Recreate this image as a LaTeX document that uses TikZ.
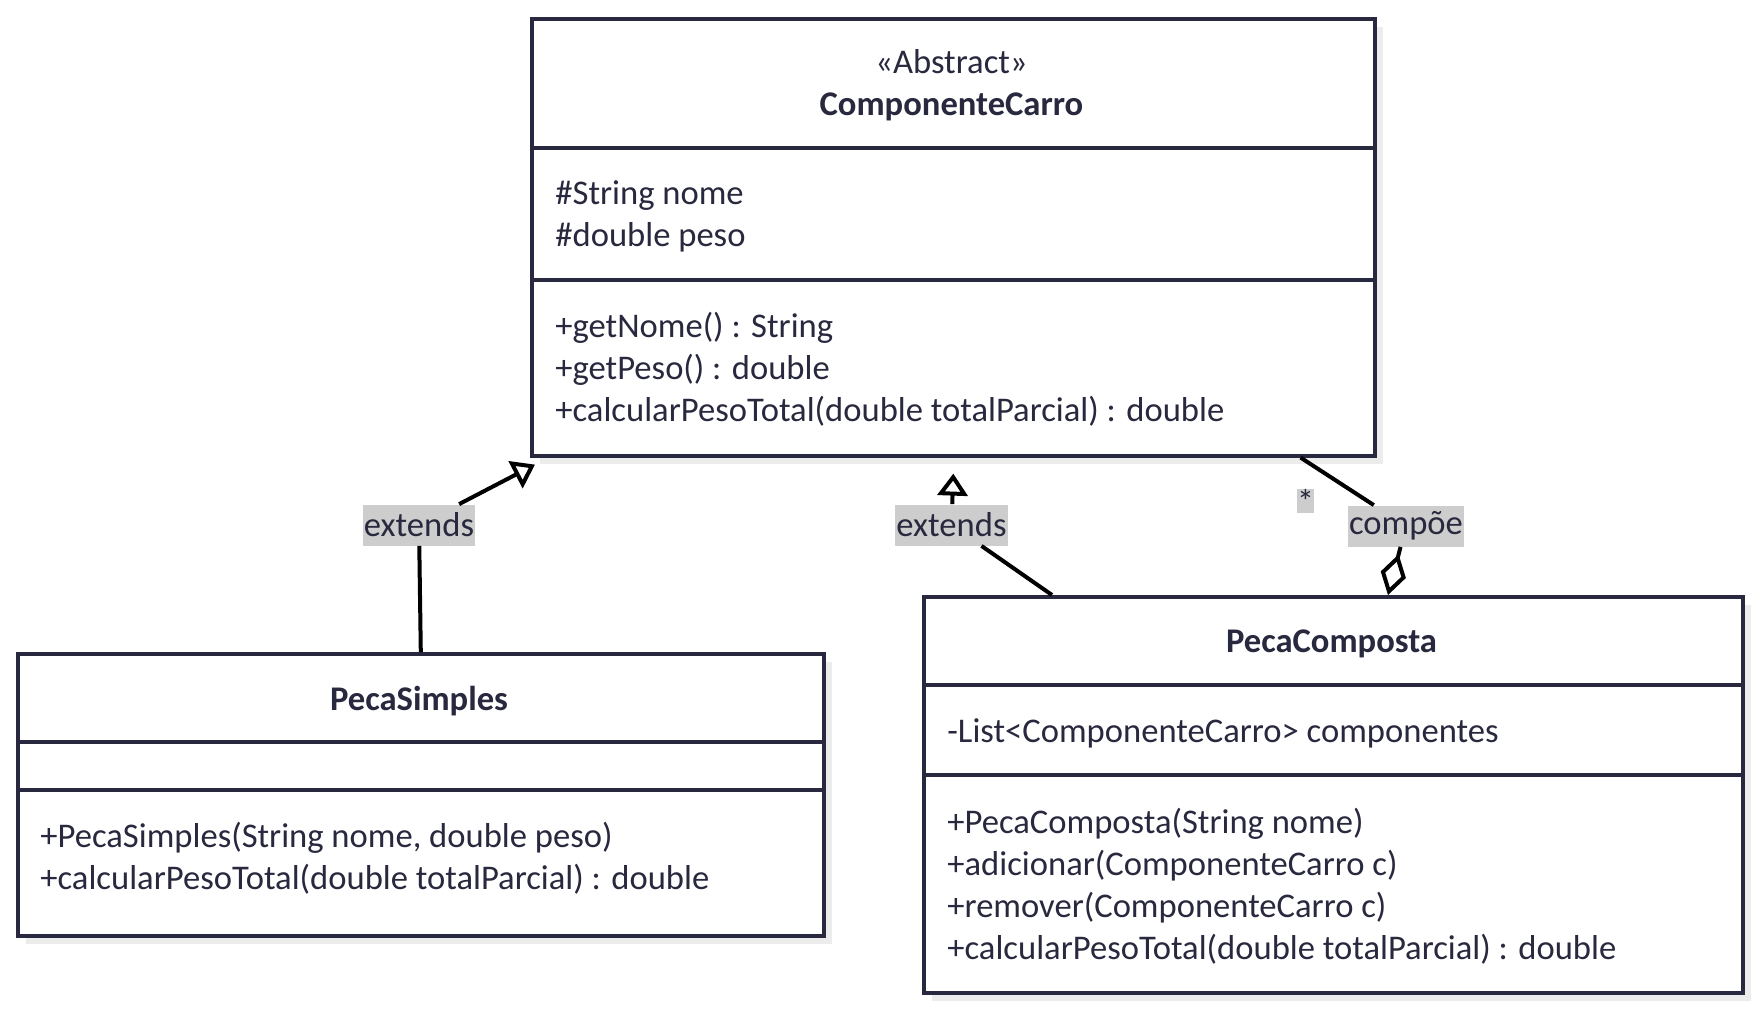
\documentclass[tikz,border=0pt]{standalone}
\usepackage{fontspec}
\setmainfont{Carlito}
\usepackage{tikz}
\usetikzlibrary{arrows.meta, shadows}
\definecolor{tinta}{RGB}{40,40,62}
\definecolor{cinza}{RGB}{205,205,205}
\definecolor{sombra}{RGB}{236,236,236}

\tikzset{
  classe/.style={draw=tinta, line width=1.8pt, fill=white, anchor=north west, inner sep=0pt,
    drop shadow={shadow xshift=4pt, shadow yshift=-4pt, fill=sombra, opacity=1}},
  divisao/.style={draw=tinta, line width=1.8pt},
  texto/.style={text=tinta, font=\fontsize{17.3}{21}\selectfont, inner sep=0pt},
  membros/.style={texto, align=left, anchor=west},
  rotulo/.style={texto, fill=cinza, inner xsep=0.5pt, minimum height=20.5pt},
  ligacao/.style={line width=2pt},
  heranca/.style={ligacao, -{Triangle[open, length=11pt, width=15pt]}},
  agregacao/.style={ligacao, -{Diamond[open, length=21pt, width=13pt]}},
}

\begin{document}
\begin{tikzpicture}[x=0.5pt, y=-0.5pt]
\useasboundingbox (0,0) rectangle (1758,1008);

% Classe abstrata
\node[classe, minimum width=421.5pt, minimum height=218.5pt] (cc) at (530,17) {};
\draw[divisao] (cc.west |- 0,148) -- (cc.east |- 0,148);
\draw[divisao] (cc.west |- 0,280) -- (cc.east |- 0,280);
\node[texto, align=center] (ccT) at (951.5,85) {«Abstract»\\\textbf{ComponenteCarro}};
\node[membros] (ccA) at (555,216.5) {\#String nome\\\#double peso};
\node[membros] (ccM) at (555,369) {+getNome() : String\\+getPeso() : double\\+calcularPesoTotal(double totalParcial) : double};

% Peca simples
\node[classe, minimum width=403pt, minimum height=141pt] (ps) at (16,652) {};
\draw[divisao] (ps.west |- 0,742) -- (ps.east |- 0,742);
\draw[divisao] (ps.west |- 0,790) -- (ps.east |- 0,790);
\node[texto] (psT) at (419,701) {\textbf{PecaSimples}};
\node[membros] (psM) at (40,858) {+PecaSimples(String nome, double peso)\\+calcularPesoTotal(double totalParcial) : double};

% Peca composta
\node[classe, minimum width=409.5pt, minimum height=198pt] (pc) at (922,595) {};
\draw[divisao] (pc.west |- 0,685) -- (pc.east |- 0,685);
\draw[divisao] (pc.west |- 0,775) -- (pc.east |- 0,775);
\node[texto] (pcT) at (1331.5,644) {\textbf{PecaComposta}};
\node[membros] (pcA) at (947,733) {-List<ComponenteCarro> componentes};
\node[membros] (pcM) at (947,886) {+PecaComposta(String nome)\\+adicionar(ComponenteCarro c)\\+remover(ComponenteCarro c)\\+calcularPesoTotal(double totalParcial) : double};

% Relacoes
\node[rotulo] (extA) at (419,525) {extends};
\node[rotulo] (extB) at (951.5,525) {extends};
\node[rotulo] (comp) at (1406,526) {compõe};
\node[rotulo, font=\fontsize{17}{17}\selectfont, inner xsep=0pt, minimum height=11pt, text depth=0pt] (mult) at (1305.5,501) {*};

\draw[ligacao] (ps.north) -- (extA);
\draw[heranca] (extA) -- ([shift={(2.5pt,-3.5pt)}]cc.south west);
\draw[ligacao] ([xshift=65pt]pc.north west) -- (extB);
\draw[heranca] (extB) -- ([yshift=-8pt]cc.south);
\draw[ligacao] ([xshift=-38pt]cc.south east) -- (comp);
\draw[agregacao] (comp) -- ([xshift=233pt]pc.north west);

\end{tikzpicture}
\end{document}
